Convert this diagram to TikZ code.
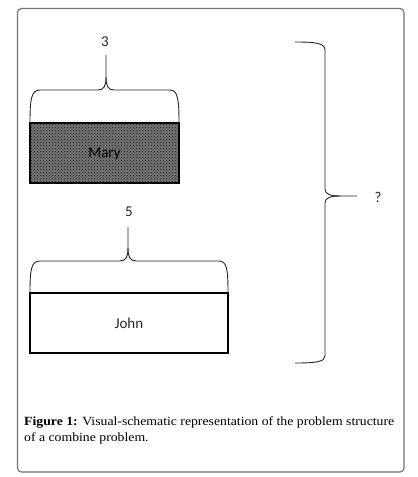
\documentclass[tikz,border=0pt]{standalone}
\usepackage{fontspec}
\setmainfont{Liberation Serif}
\newfontfamily\labfont{Carlito}
\newfontfamily\capfont[FakeStretch=1.1]{Liberation Serif}
\usetikzlibrary{patterns}
\begin{document}
\begin{tikzpicture}[x=1pt,y=-1pt,
  bracestyle/.style={draw=black!85, line width=0.9pt},
  boxstyle/.style={draw=black, line width=1.8pt},
  lab/.style={font=\labfont\fontsize{15}{18}\selectfont, text=black!85, inner sep=0pt}]
\useasboundingbox (0,0) rectangle (418,477);
% outer frame
\draw[draw=black!55, line width=1.2pt, rounded corners=4pt] (17.5,8.5) rectangle (404,472);
% Mary box
\fill[black!55] (30,123) rectangle (179,183);
\fill[pattern=crosshatch dots, pattern color=black!90] (30,123) rectangle (179,183);
\draw[boxstyle] (30,123) rectangle (179,183);
\node[lab, text=black] (mary) at (104.5,153.5) {Mary};
% brace above Mary
\draw[bracestyle] (30,123) .. controls (30,100) and (31,90) .. (40,90) -- (98,90) .. controls (104,90) and (106,86) .. (106,77) -- (106,55);
\draw[bracestyle] (106,77) .. controls (106,86) and (108,90) .. (114,90) -- (170,90) .. controls (178,90) and (179,100) .. (179,123);
\node[lab] (three) at (105,42) {3};
% John box
\draw[boxstyle] (30,293) rectangle (228,353);
\node[lab] (john) at (129,323) {John};
% brace above John
\draw[bracestyle] (30,293) .. controls (30,270) and (31,261) .. (40,261) -- (120,261) .. controls (126,261) and (128,257) .. (128,248) -- (128,227);
\draw[bracestyle] (128,248) .. controls (128,257) and (130,261) .. (136,261) -- (219,261) .. controls (227,261) and (228,270) .. (228,293);
\node[lab] (five) at (129,212) {5};
% right brace
\draw[bracestyle] (295,42) .. controls (315,42) and (325,43) .. (325,50) -- (325,189) .. controls (325,194) and (330,196) .. (340,196) -- (357,196);
\draw[bracestyle] (340,196) .. controls (330,196) and (325,198) .. (325,203) -- (325,356) .. controls (325,362) and (315,363) .. (295,363);
\node[lab] (q) at (378,197) {?};
% caption
\node[anchor=north west, inner sep=0pt, align=left,
      font=\capfont\fontsize{12.5}{16}\selectfont] (cap) at (24,416)
  {\textbf{Figure 1:} Visual-schematic representation of the problem structure\\of a combine problem.};
\end{tikzpicture}
\end{document}
